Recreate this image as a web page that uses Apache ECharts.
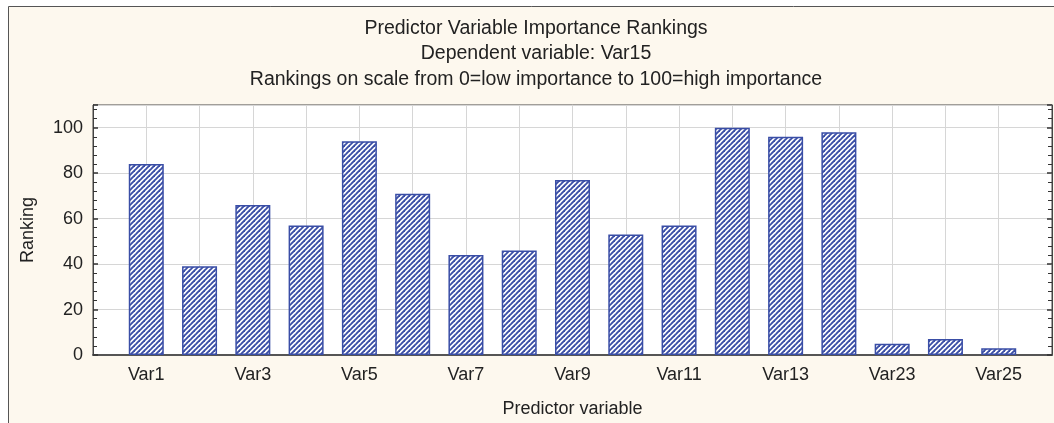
<!DOCTYPE html>
<html>
<head>
<meta charset="utf-8">
<script src="https://cdn.jsdelivr.net/npm/echarts@6/dist/echarts.min.js"></script>
<style>
html,body{margin:0;padding:0;background:#ffffff;}
#chart{width:1054px;height:423px;}
</style>
</head>
<body>
<div id="chart"></div>
<script>
const categories = ['Var1','Var2','Var3','Var4','Var5','Var6','Var7','Var8','Var9','Var10','Var11','Var12','Var13','Var14','Var23','Var24','Var25'];
const rankings = [84, 39, 66, 57, 94, 71, 44, 46, 77, 53, 57, 100, 96, 98, 5, 7, 3];
const titleLines = ['Predictor Variable Importance Rankings', 'Dependent variable: Var15', 'Rankings on scale from 0=low importance to 100=high importance'];
const xTitle = 'Predictor variable';
const yTitle = 'Ranking';

function makeHatch() {
  const s = 5;
  const c = document.createElement('canvas');
  c.width = s; c.height = s;
  const g = c.getContext('2d');
  g.fillStyle = '#ffffff';
  g.fillRect(0, 0, s, s);
  g.strokeStyle = '#3a4ea6';
  g.lineWidth = 1.9;
  for (const o of [-s, 0, s]) {
    g.beginPath();
    g.moveTo(o - 1, s + 1);
    g.lineTo(o + s + 1, -1);
    g.stroke();
  }
  return c;
}

const chart = echarts.init(document.getElementById('chart'), null, {renderer: 'canvas'});
const font = 'Arial, "Liberation Sans", sans-serif';
const textColor = '#222222';

const option = {
  animation: false,
  backgroundColor: '#ffffff',
  graphic: [
    {type: 'rect', z: -10, shape: {x: 8.5, y: 6.5, width: 1100, height: 500},
     style: {fill: '#fdf8ee', stroke: '#555555', lineWidth: 1}},
    ...titleLines.map((t, i) => ({
      type: 'text', x: 536, y: 28.5 + i * 25.5, z: 10,
      style: {text: t, fill: textColor, font: '19.5px ' + font, textAlign: 'center', textVerticalAlign: 'middle'}
    }))
  ],
  grid: {left: 93, top: 105, right: 2, bottom: 68, containLabel: false, outerBoundsMode: 'none',
         show: true, backgroundColor: '#ffffff', borderColor: '#444444', borderWidth: 1},
  xAxis: {
    type: 'value', min: 0, max: 18, interval: 1,
    name: xTitle, nameLocation: 'middle', nameGap: 45,
    nameTextStyle: {color: textColor, fontSize: 18, fontFamily: font},
    axisLine: {show: true, onZero: false, lineStyle: {color: '#555555', width: 2}},
    axisTick: {show: false},
    axisLabel: {
      color: textColor, fontSize: 18, fontFamily: font, margin: 11,
      showMinLabel: true, showMaxLabel: true,
      formatter: v => (v >= 1 && v <= categories.length && v % 2 === 1) ? categories[v - 1] : ''
    },
    splitLine: {show: true, lineStyle: {color: '#d6d6d6', width: 1}}
  },
  yAxis: [{
    type: 'value', min: 0, max: 110, interval: 20,
    name: yTitle, nameLocation: 'middle', nameGap: 56,
    nameTextStyle: {color: textColor, fontSize: 18, fontFamily: font},
    axisLine: {show: true, lineStyle: {color: '#444444', width: 1}},
    axisTick: {show: true, inside: true, length: 5, lineStyle: {color: '#333333', width: 1.5}},
    minorTick: {show: true, splitNumber: 5, length: 4, lineStyle: {color: '#333333', width: 1}},
    axisLabel: {color: textColor, fontSize: 18, fontFamily: font, margin: 10, showMaxLabel: false},
    splitLine: {show: true, lineStyle: {color: '#d6d6d6', width: 1}}
  }, {
    type: 'value', min: 0, max: 110, interval: 20, position: 'right',
    axisLine: {show: true, lineStyle: {color: '#444444', width: 1}},
    axisTick: {show: true, inside: true, length: 5, lineStyle: {color: '#333333', width: 1.5}},
    minorTick: {show: true, splitNumber: 5, length: 4, lineStyle: {color: '#333333', width: 1}},
    axisLabel: {show: false},
    splitLine: {show: false}
  }],
  series: [{
    type: 'bar',
    barWidth: 35,
    data: rankings.map((v, i) => [i + 1, v]),
    itemStyle: {
      color: {image: makeHatch(), repeat: 'repeat'},
      borderColor: '#3a4ea6', borderWidth: 1.5
    }
  }]
};
chart.setOption(option);
</script>
</body>
</html>
